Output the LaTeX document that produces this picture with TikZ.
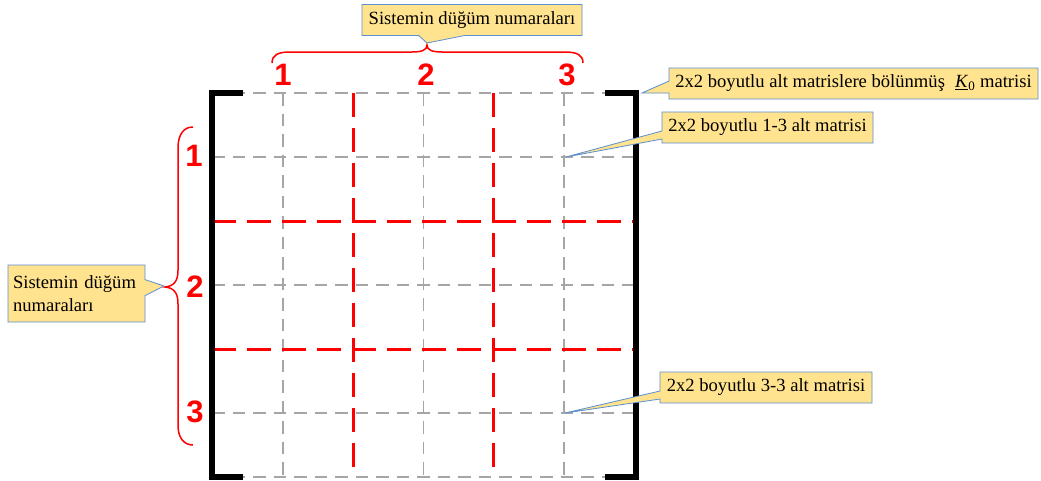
\documentclass[tikz,border=0pt]{standalone}
\usepackage{fontspec}
\setmainfont{Liberation Serif}
\newfontfamily\labfont{Liberation Sans}
\usetikzlibrary{shapes.callouts}
\definecolor{cfill}{HTML}{FFE38F}
\definecolor{cline}{HTML}{5B8FD0}
\definecolor{gridgray}{HTML}{A6A6A6}
\definecolor{gridred}{HTML}{FF0000}
\begin{document}
\begin{tikzpicture}[x=1pt,y=-1pt,
  graygrid/.style={draw=gridgray, line width=1.6pt, dash pattern=on 12.5pt off 8pt},
  redgrid/.style={draw=gridred, line width=3pt, dash pattern=on 24pt off 11pt},
  bracket/.style={draw=black, line width=6pt, line cap=butt, line join=miter},
  bracestyle/.style={draw=red, line width=1.5pt},
  num/.style={text=red, font=\labfont\fontsize{31}{32}\selectfont\bfseries, inner sep=0pt},
  callbox/.style={rectangle callout, fill=cfill, draw=cline, line width=0.8pt,
    font=\fontsize{18.6}{23}\selectfont, inner sep=0pt, callout pointer width=#1},
  callbox/.default=10pt,
]
\useasboundingbox (0,0) rectangle (1041,480);
% gray grid
\foreach \y in {93,157,285,413,477}
  \draw[graygrid] (212,\y) -- (636,\y);
\foreach \x in {282.7,423.3,564}
  \draw[graygrid] (\x,93) -- (\x,477);
% red grid
\foreach \y in {221,349}
  \draw[redgrid] (212,\y) -- (636,\y);
\foreach \x in {353,493.7}
  \draw[redgrid] (\x,93) -- (\x,477);
% brackets
\draw[bracket] (243,93) -- (212,93) -- (212,477) -- (243,477);
\draw[bracket] (605,93) -- (636,93) -- (636,477) -- (605,477);
% numbers
\node[num] (t1) at (283,75) {1};
\node[num] (t2) at (426,75) {2};
\node[num] (t3) at (567,75) {3};
\node[num] (l1) at (194,156) {1};
\node[num] (l2) at (195,287) {2};
\node[num] (l3) at (195,412) {3};
% braces
\draw[bracestyle] (272,63) .. controls (272,55) and (278,52) .. (290,52) -- (412,52)
  .. controls (422,52) and (427,50) .. (427,45)
  .. controls (427,50) and (432,52) .. (442,52) -- (565,52)
  .. controls (577,52) and (583,55) .. (583,63);
\draw[bracestyle] (193,127) .. controls (184,127) and (178,134) .. (178,148) -- (178,270)
  .. controls (178,280) and (175,286) .. (165,287)
  .. controls (175,288) and (178,294) .. (178,304) -- (178,425)
  .. controls (178,438) and (184,445) .. (193,445);
% callouts
\node[callbox=46pt, callout absolute pointer={(427,43)}, minimum width=220pt, minimum height=31pt]
  (topc) at (472,20) {Sistemin düğüm numaraları};
\node[callbox=12pt, callout absolute pointer={(642,93)}, minimum width=369pt, minimum height=31pt]
  (k0c) at (853.5,83.5) {2x2 boyutlu alt matrislere bölünmüş\hspace{0.55em}\underline{\textit{K}}\textsubscript{0} matrisi};
\node[callbox=8pt, callout absolute pointer={(566,157)}, minimum width=211pt, minimum height=31pt]
  (c13) at (767.5,127.5) {2x2 boyutlu 1-3 alt matrisi};
\node[callbox=8pt, callout absolute pointer={(565,413)}, minimum width=212pt, minimum height=31pt]
  (c33) at (766,387.5) {2x2 boyutlu 3-3 alt matrisi};
\node[callbox=16pt, callout absolute pointer={(164,286)}, minimum width=137pt, minimum height=57pt,
  text width=127pt, align=left]
  (leftc) at (76.5,293.5) {Sistemin düğüm\\numaraları};
\end{tikzpicture}
\end{document}
